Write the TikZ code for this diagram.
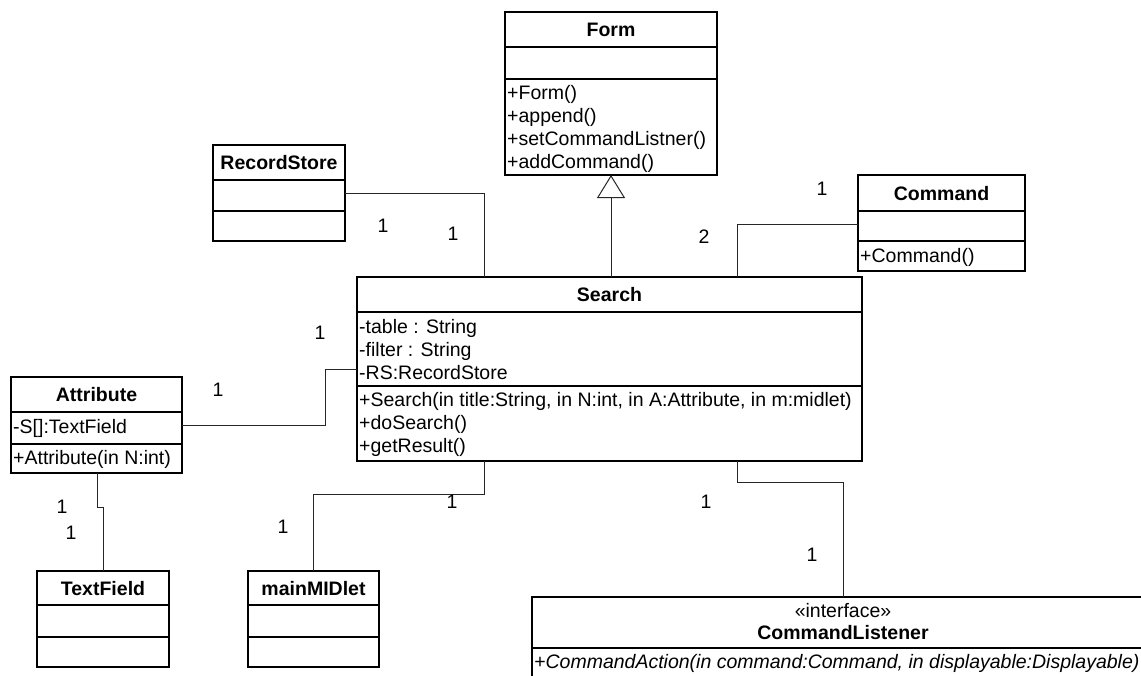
\documentclass[tikz,border=0pt]{standalone}
\usepackage{fontspec}
\setmainfont{Liberation Sans}
\usetikzlibrary{arrows.meta}

% class box: name, left, top, right, bottom (pixel-like units, y grows downward)
\newcommand\umlbox[5]{%
  \node[classbox, minimum width={#4-#2}, minimum height={#5-#3}]
    (#1) at ({(#2+#4)/2},{(#3+#5)/2}) {};}
% compartment separator inside a box at a given y
\newcommand\umlsep[2]{\draw[sepline] (#1.west |- 0,#2) -- (#1.east |- 0,#2);}

\tikzset{
  classbox/.style={draw, line width=1.6pt, inner sep=0pt, outer sep=0pt},
  sepline/.style={line width=1.6pt},
  assoc/.style={draw=black!85, line width=1pt},
  txt/.style={inner sep=0pt, anchor=base west, font=\fontsize{19.5}{23}\selectfont},
  ttl/.style={inner sep=0pt, anchor=base, font=\fontsize{19.5}{23}\selectfont\bfseries},
  mult/.style={inner sep=0pt, font=\fontsize{19.5}{23}\selectfont},
}

\begin{document}
\begin{tikzpicture}[x=1pt, y=-1pt]
\fill[white] (0,0) rectangle (1141,675);
\useasboundingbox (0,0) rectangle (1141,675);

% ---- Form ----
\umlbox{form}{505}{12}{717}{175}
\umlsep{form}{47}
\umlsep{form}{79}
\node[ttl] (form-t) at (611,36.5) {Form};
\node[txt] (form-m1) at (507,99) {+Form()};
\node[txt] (form-m2) at (507,122) {+append()};
\node[txt] (form-m3) at (507,145) {+setCommandListner()};
\node[txt] (form-m4) at (507,168) {+addCommand()};

% ---- RecordStore ----
\umlbox{rs}{213}{145}{345}{241}
\umlsep{rs}{180}
\umlsep{rs}{211}
\node[ttl] (rs-t) at (279,169.5) {RecordStore};

% ---- Command ----
\umlbox{cmd}{858}{175}{1025}{271}
\umlsep{cmd}{211}
\umlsep{cmd}{241}
\node[ttl] (cmd-t) at (941.5,200) {Command};
\node[txt] (cmd-m1) at (860,262) {+Command()};

% ---- Search ----
\umlbox{search}{357}{277}{862}{461}
\umlsep{search}{312}
\umlsep{search}{386}
\node[ttl] (search-t) at (609.5,301.5) {Search};
\node[txt] (search-a1) at (359,333) {-table : String};
\node[txt] (search-a2) at (359,356) {-filter : String};
\node[txt] (search-a3) at (359,379) {-RS:RecordStore};
\node[txt] (search-m1) at (359,406) {+Search(in title:String, in N:int, in A:Attribute, in m:midlet)};
\node[txt] (search-m2) at (359,429) {+doSearch()};
\node[txt] (search-m3) at (359,452) {+getResult()};

% ---- Attribute ----
\umlbox{attr}{11}{377}{182}{473}
\umlsep{attr}{412}
\umlsep{attr}{444}
\node[ttl] (attr-t) at (96.5,401.5) {Attribute};
\node[txt] (attr-a1) at (13,433) {-S[]:TextField};
\node[txt] (attr-m1) at (13,464) {+Attribute(in N:int)};

% ---- TextField ----
\umlbox{tf}{37}{571}{169}{667}
\umlsep{tf}{605}
\umlsep{tf}{637}
\node[ttl] (tf-t) at (103,595) {TextField};

% ---- mainMIDlet ----
\umlbox{mid}{248}{571}{379}{667}
\umlsep{mid}{605}
\umlsep{mid}{637}
\node[ttl] (mid-t) at (313.5,595) {mainMIDlet};

% ---- CommandListener (runs past the page edge) ----
\umlbox{cl}{532}{597}{1150}{690}
\umlsep{cl}{648}
\node[inner sep=0pt, anchor=base, font=\fontsize{19.5}{23}\selectfont] (cl-s) at (843,617) {«interface»};
\node[ttl] (cl-t) at (843,639) {CommandListener};
\node[txt, font=\fontsize{19.5}{23}\selectfont\itshape] (cl-m1) at (534,668)
  {+CommandAction(in command:Command, in displayable:Displayable)};

% ---- attachment points ----
\coordinate (s-top-rs) at (484,277);
\coordinate (s-top-form) at (611,277);
\coordinate (s-top-cmd) at (737,277);
\coordinate (s-left-attr) at (357,369);
\coordinate (s-bot-mid) at (484,461);
\coordinate (s-bot-cl) at (737,461);
\coordinate (form-base) at (611,175);
\coordinate (cmd-in) at (858,224);
\coordinate (attr-out) at (182,425);
\coordinate (attr-bot) at (97,473);
\coordinate (tf-top) at (103,571);
\coordinate (mid-top) at (313,571);
\coordinate (cl-top) at (843,597);

% ---- connectors ----
\draw[assoc] (rs.east) -| (s-top-rs);
\draw[assoc, -{Triangle[open, width=28pt, length=23pt, line width=1pt]}] (s-top-form) -- (form-base);
\draw[assoc] (cmd-in) -| (s-top-cmd);
\draw[assoc] (attr-out) -- (325,425) |- (s-left-attr);
\draw[assoc] (attr-bot) -- (97,507) -- (103,507) -- (tf-top);
\draw[assoc] (s-bot-mid) -- (484,494) -| (mid-top);
\draw[assoc] (s-bot-cl) -- (737,482) -| (cl-top);

% ---- multiplicities ----
\node[mult] (m-rs1) at (383,226) {1};
\node[mult] (m-rs2) at (453,234) {1};
\node[mult] (m-cmd1) at (822,189) {1};
\node[mult] (m-cmd2) at (704,237) {2};
\node[mult] (m-at1) at (320,333) {1};
\node[mult] (m-at2) at (218,390) {1};
\node[mult] (m-tf1) at (62,507) {1};
\node[mult] (m-tf2) at (71,533) {1};
\node[mult] (m-mid1) at (452,502) {1};
\node[mult] (m-mid2) at (283,527) {1};
\node[mult] (m-cl1) at (706,502) {1};
\node[mult] (m-cl2) at (812,555) {1};
\end{tikzpicture}
\end{document}
